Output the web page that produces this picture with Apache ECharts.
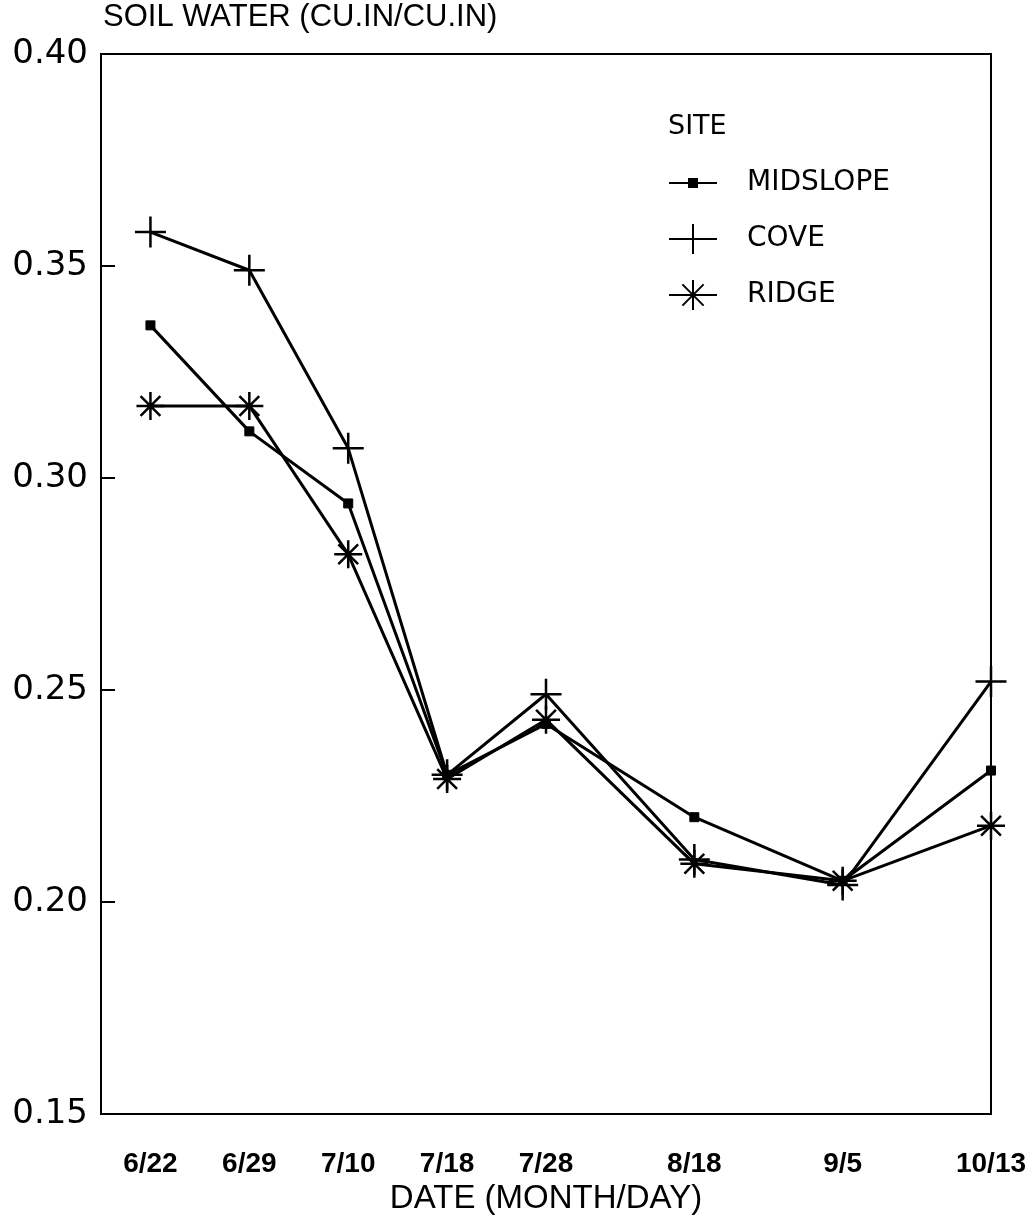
<!DOCTYPE html>
<html>
<head>
<meta charset="utf-8">
<script src="https://cdn.jsdelivr.net/npm/echarts@6/dist/echarts.min.js"></script>
<style>html,body{margin:0;padding:0;background:#fff;}#c{width:1036px;height:1224px;}</style>
</head>
<body>
<div id="c"></div>
<script>
// ---- data ----
const dates = ['6/22','6/29','7/10','7/18','7/28','8/18','9/5','10/13'];
// horizontal placement of each sampling date along the original axis (unit spacing)
const xPos = [0, 1, 2, 3, 4, 5.5, 7, 8.5];
const midslope = [0.336, 0.311, 0.294, 0.230, 0.242, 0.220, 0.205, 0.231];
const cove     = [0.358, 0.349, 0.307, 0.230, 0.249, 0.210, 0.204, 0.252];
const ridge    = [0.317, 0.317, 0.282, 0.229, 0.243, 0.209, 0.205, 0.218];
const yTicks = [0.15, 0.20, 0.25, 0.30, 0.35, 0.40];

const pairs = vals => vals.map((v, i) => [xPos[i], v]);

const plusPath = 'path://M0,-10 L0,10 M-10,0 L10,0';
const starPath = 'path://M0,-10 L0,10 M-10,0 L10,0 M-7.07,-7.07 L7.07,7.07 M-7.07,7.07 L7.07,-7.07';
const legSquare = 'path://M0,15 L48,15 M20,11 L28,11 L28,19 L20,19 Z M0,0 L0,0 M48,30 L48,30';
const legPlus = 'path://M0,15 L48,15 M24,0 L24,30';
const legStar = 'path://M0,15 L48,15 M24,0 L24,30 M13.4,4.4 L34.6,25.6 M13.4,25.6 L34.6,4.4';

const chart = echarts.init(document.getElementById('c'));
const lineStyle = {color: '#000', width: 3};
chart.setOption({
  animation: false,
  backgroundColor: '#fff',
  title: [
    {text: 'SOIL WATER (CU.IN/CU.IN)', left: 103, top: 0, padding: [2, 0, 0, 0],
     textStyle: {fontFamily: 'Liberation Sans', fontSize: 31, fontWeight: 'normal', color: '#000'}},
    {text: 'SITE', left: 668, top: 113, padding: 0,
     textStyle: {fontFamily: 'DejaVu Sans', fontSize: 27, fontWeight: 'normal', color: '#000'}}
  ],
  legend: {
    orient: 'vertical', left: 668, top: 167, padding: 0,
    itemWidth: 48, itemHeight: 30, itemGap: 24,
    itemStyle: {color: '#000', borderColor: '#000', borderWidth: 2},
    textStyle: {fontFamily: 'DejaVu Sans', fontSize: 28, color: '#000', padding: [0, 0, 0, 25]},
    data: [
      {name: 'MIDSLOPE', icon: legSquare},
      {name: 'COVE', icon: legPlus},
      {name: 'RIDGE', icon: legStar}
    ]
  },
  grid: {left: 101, right: 45, top: 54, bottom: 110, show: true, borderColor: '#000', borderWidth: 2},
  xAxis: {
    type: 'value', min: -0.5, max: 8.5,
    axisLine: {show: true, onZero: false, lineStyle: {color: '#000', width: 2}},
    axisTick: {show: false},
    splitLine: {show: false},
    axisLabel: {
      customValues: xPos, margin: 36,
      fontFamily: 'Liberation Sans', fontSize: 28, fontWeight: 'bold', color: '#000',
      formatter: v => { const i = xPos.indexOf(v); return i >= 0 ? dates[i] : ''; }
    },
    name: 'DATE (MONTH/DAY)', nameLocation: 'middle', nameGap: 68,
    nameTextStyle: {fontFamily: 'Liberation Sans', fontSize: 33, color: '#000'}
  },
  yAxis: {
    type: 'value', min: 0.15, max: 0.40, interval: 0.05,
    axisLine: {show: true, onZero: false, lineStyle: {color: '#000', width: 2}},
    axisTick: {show: true, inside: true, length: 14, lineStyle: {color: '#000', width: 2}},
    splitLine: {show: false},
    axisLabel: {
      margin: 13, fontFamily: 'DejaVu Sans', fontSize: 34, color: '#000',
      formatter: v => yTicks.find(t => Math.abs(t - v) < 1e-6).toFixed(2)
    }
  },
  series: [
    {name: 'MIDSLOPE', type: 'line', data: pairs(midslope), symbol: 'rect', symbolSize: 9,
     lineStyle: lineStyle, itemStyle: {color: '#000', borderColor: '#000', borderWidth: 1}},
    {name: 'COVE', type: 'line', data: pairs(cove), symbol: plusPath, symbolSize: 31,
     lineStyle: lineStyle, itemStyle: {color: '#000', borderColor: '#000', borderWidth: 2.5}},
    {name: 'RIDGE', type: 'line', data: pairs(ridge), symbol: starPath, symbolSize: 28,
     lineStyle: lineStyle, itemStyle: {color: '#000', borderColor: '#000', borderWidth: 2.5}}
  ]
});
</script>
</body>
</html>
